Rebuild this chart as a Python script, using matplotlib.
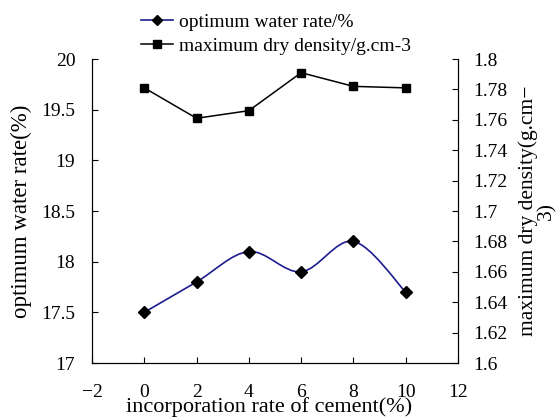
import matplotlib
matplotlib.use("Agg")
import matplotlib.pyplot as plt
import numpy as np
from matplotlib.path import Path
from matplotlib.patches import PathPatch

plt.rcParams['font.family'] = ['Liberation Serif', 'DejaVu Serif']
plt.rcParams['font.size'] = 14

cement = [0, 2, 4, 6, 8, 10]
water_rate = [17.5, 17.8, 18.1, 17.9, 18.2, 17.7]
dry_density = [1.781, 1.761, 1.766, 1.791, 1.782, 1.781]
left_ticks = [17, 17.5, 18, 18.5, 19, 19.5, 20]
right_ticks = [1.6, 1.62, 1.64, 1.66, 1.68, 1.7, 1.72, 1.74, 1.76, 1.78, 1.8]
x_ticks = [-2, 0, 2, 4, 6, 8, 10, 12]


def smooth_path(x, y, t=1/6):
    # catmull-rom style bezier through the points (excel "smoothed line")
    x = np.asarray(x, float)
    y = np.asarray(y, float)
    verts = [(x[0], y[0])]
    codes = [Path.MOVETO]
    n = len(x)
    for i in range(n - 1):
        p0 = (x[max(i - 1, 0)], y[max(i - 1, 0)])
        p1 = (x[i], y[i])
        p2 = (x[i + 1], y[i + 1])
        p3 = (x[min(i + 2, n - 1)], y[min(i + 2, n - 1)])
        c1 = (p1[0] + (p2[0] - p0[0]) * t, p1[1] + (p2[1] - p0[1]) * t)
        c2 = (p2[0] - (p3[0] - p1[0]) * t, p2[1] - (p3[1] - p1[1]) * t)
        verts += [c1, c2, p2]
        codes += [Path.CURVE4] * 3
    return Path(verts, codes)


fig = plt.figure(figsize=(5.56, 4.18), dpi=100)
ax = fig.add_axes([92 / 556, 55 / 418, 366 / 556, 304 / 418])
ax2 = ax.twinx()

blue = '#1c1c8f'
ax.add_patch(PathPatch(smooth_path(cement, water_rate), facecolor='none',
                       edgecolor=blue, lw=1.2, zorder=2))
ax.plot(cement, water_rate, ls='none', marker='D', ms=6, color='black', zorder=3)
h1, = ax.plot([], [], color=blue, lw=1.2, marker='D', ms=5,
              mfc='black', mec='black')

h2, = ax2.plot(cement, dry_density, color='black', lw=1.1, marker='s', ms=6)

ax.set_xlim(-2, 12)
ax.set_ylim(17, 20)
ax2.set_ylim(1.6, 1.8)
ax.set_xticks(x_ticks)
ax.set_xticklabels([f'\u2212{-v}' if v < 0 else str(v) for v in x_ticks])
ax.set_yticks(left_ticks)
ax.set_yticklabels([f'{v:g}' for v in left_ticks])
ax2.set_yticks(right_ticks)
ax2.set_yticklabels([f'{v:g}' for v in right_ticks])

for a in (ax, ax2):
    a.spines['top'].set_visible(False)
ax.tick_params(axis='both', direction='in', length=4, labelsize=14)
ax.tick_params(axis='y', pad=12)
ax.tick_params(axis='x', pad=15)
ax2.tick_params(axis='y', direction='in', length=4, labelsize=14, pad=11)

ax.set_xlabel('incorporation rate of cement(%)', fontsize=16)
ax.xaxis.set_label_coords(0.484, -0.113)
ax.set_ylabel('optimum water rate(%)', fontsize=16.5)
ax.yaxis.set_label_coords(-0.165, 0.5)
ax2.set_ylabel('maximum dry density(g.cm\u2212\n3)', fontsize=15.5,
               rotation=90, linespacing=0.95)
ax2.yaxis.set_label_coords(1.165, 0.5)

fig.legend([h1, h2], ['optimum water rate/%', 'maximum dry density/g.cm-3'],
           loc='upper left', bbox_to_anchor=(141 / 556, 1 - 13 / 418),
           frameon=False, fontsize=14, handlelength=1.65, handletextpad=0.3,
           labelspacing=0.33, borderaxespad=0, borderpad=0)

fig.savefig('out.png', dpi=100)
